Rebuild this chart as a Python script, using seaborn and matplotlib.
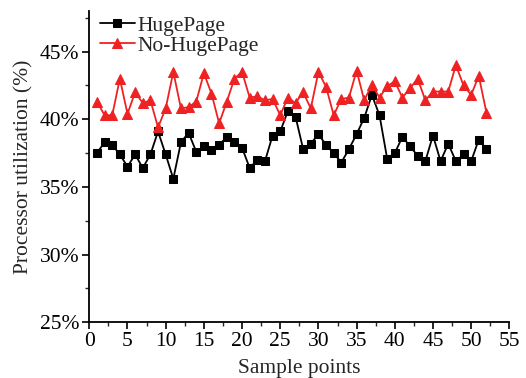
import numpy as np
import pandas as pd
import matplotlib
matplotlib.use("Agg")
import matplotlib.pyplot as plt
import seaborn as sns
from matplotlib.ticker import MultipleLocator, FuncFormatter

samples = list(range(1, 53))
hugepage = [37.5, 38.3, 38.1, 37.4, 36.5, 37.4, 36.4, 37.4, 39.1, 37.4,
            35.6, 38.3, 39.0, 37.6, 38.0, 37.7, 38.1, 38.7, 38.3, 37.9,
            36.4, 37.0, 36.9, 38.8, 39.1, 40.6, 40.2, 37.8, 38.2, 38.9,
            38.1, 37.5, 36.8, 37.8, 38.9, 40.1, 41.8, 40.3, 37.1, 37.5,
            38.7, 38.0, 37.3, 36.9, 38.8, 36.9, 38.2, 36.9, 37.4, 36.9,
            38.5, 37.8]
no_hugepage = [41.3, 40.3, 40.3, 43.0, 40.4, 42.0, 41.2, 41.4, 39.4, 40.8,
               43.5, 40.8, 40.9, 41.3, 43.4, 41.9, 39.7, 41.3, 43.0, 43.5,
               41.6, 41.7, 41.4, 41.5, 40.3, 41.6, 41.2, 42.0, 40.8, 43.5,
               42.4, 40.3, 41.5, 41.6, 43.6, 41.4, 42.55, 41.6, 42.45, 42.8,
               41.6, 42.3, 43.0, 41.4, 42.05, 42.05, 42.05, 44.0, 42.5, 41.8,
               43.2, 40.5]
series_names = ["HugePage", "No-HugePage"]

df = pd.DataFrame({
    "x": samples * 2,
    "y": hugepage + no_hugepage,
    "series": [series_names[0]] * len(samples) + [series_names[1]] * len(samples),
})

sns.set_theme(style="ticks")
plt.rcParams["font.family"] = ["Liberation Serif", "DejaVu Serif"]

fig = plt.figure(figsize=(5.26, 3.78), dpi=100)
ax = fig.add_axes([0.1698, 0.1474, 0.7985, 0.8235])

palette = {"HugePage": "#000000", "No-HugePage": "#ee2222"}
markers = {"HugePage": "s", "No-HugePage": "^"}
sizes = {"HugePage": 6.0, "No-HugePage": 7.0}
for name in series_names:
    sub = df[df["series"] == name]
    sns.lineplot(data=sub, x="x", y="y", ax=ax, color=palette[name],
                 marker=markers[name], markersize=sizes[name],
                 markeredgecolor=palette[name], linewidth=1.3, label=name)

ax.set_xlim(0, 55)
ax.set_ylim(25, 48)
ax.xaxis.set_major_locator(MultipleLocator(5))
ax.xaxis.set_minor_locator(MultipleLocator(2.5))
ax.yaxis.set_major_locator(MultipleLocator(5))
ax.yaxis.set_minor_locator(MultipleLocator(2.5))
ax.yaxis.set_major_formatter(FuncFormatter(lambda v, p: f"{int(round(v))}%"))

ax.tick_params(axis="both", which="major", direction="out", length=5, width=1.2,
               labelsize=15.5, colors="black", pad=2)
ax.tick_params(axis="both", which="minor", direction="out", length=3, width=1.0)

for s in ["top", "right"]:
    ax.spines[s].set_visible(False)
for s in ["left", "bottom"]:
    ax.spines[s].set_linewidth(1.3)
    ax.spines[s].set_color("black")

ax.set_xlabel("Sample points", fontsize=15.5, labelpad=6)
ax.set_ylabel("Processor utilization (%)", fontsize=15.5, labelpad=5)

leg = ax.legend(loc="upper left", frameon=False, fontsize=15.5, handlelength=1.6,
                handletextpad=0.15, borderaxespad=0.1, labelspacing=0.0,
                bbox_to_anchor=(0.0, 1.02))

fig.savefig("out.png", dpi=100)
